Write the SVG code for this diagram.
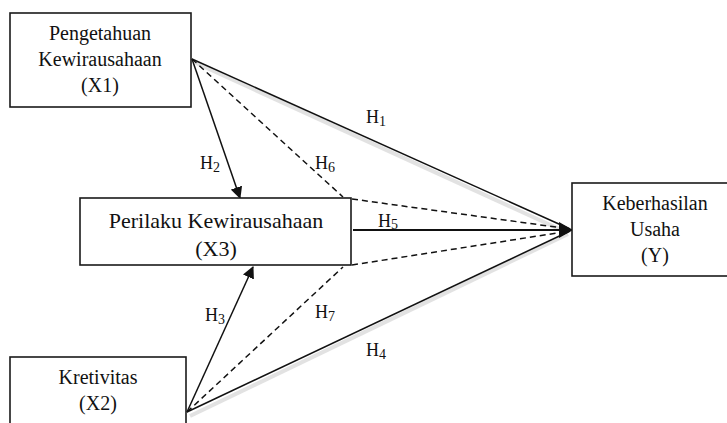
<svg xmlns="http://www.w3.org/2000/svg" width="727" height="423" viewBox="0 0 727 423">
  <defs>
    <style>
      .box { fill: #ffffff; stroke: #1a1a1a; stroke-width: 1.6; }
      .lbl { font-family: "Liberation Serif", "Times New Roman", serif; font-size: 20px; fill: #111; text-anchor: middle; }
      .big { font-size: 22px; }
      .hyp { font-family: "Liberation Serif", "Times New Roman", serif; font-size: 18px; fill: #111; }
      .sub { font-size: 14px; }
      .solid { fill: none; stroke: #111; stroke-width: 1.5; }
      .dash { fill: none; stroke: #111; stroke-width: 1.5; stroke-dasharray: 6 4; }
      .shade { fill: none; stroke: #cfcfcf; stroke-width: 4; opacity: 0.6; }
    </style>
    <marker id="arrow" viewBox="0 0 12 12" refX="11" refY="6" markerWidth="12" markerHeight="12" markerUnits="userSpaceOnUse" orient="auto">
      <path d="M0,0 L12,6 L0,12 Z" fill="#111"/>
    </marker>
    <marker id="arrowBig" viewBox="0 0 14 16" refX="13" refY="8" markerWidth="14" markerHeight="16" markerUnits="userSpaceOnUse" orient="auto">
      <path d="M0,0 L14,8 L0,16 Z" fill="#111"/>
    </marker>
  </defs>

  <rect width="727" height="423" fill="#ffffff"/>

  <!-- connectors -->
  <g id="connectors">
    <!-- soft shading under the long paths -->
    <line class="shade" x1="196" y1="63" x2="568" y2="233"/>
    <line class="shade" x1="190" y1="416" x2="568" y2="234"/>
    <!-- H1: X1 -> Y -->
    <line class="solid" x1="192" y1="59" x2="570" y2="229"/>
    <!-- H2: X1 -> X3 -->
    <line class="solid" x1="192" y1="59" x2="240" y2="198" marker-end="url(#arrow)"/>
    <!-- H6: X1 -> X3 -> Y (mediated) -->
    <line class="dash" x1="192" y1="59" x2="343" y2="197"/>
    <line class="dash" x1="352" y1="199" x2="570" y2="229"/>
    <!-- H5: X3 -> Y -->
    <line x1="353" y1="230" x2="572" y2="230" stroke="#111" stroke-width="2.2" marker-end="url(#arrowBig)"/>
    <!-- H7: X2 -> X3 -> Y (mediated) -->
    <line class="dash" x1="187" y1="412" x2="343" y2="267"/>
    <line class="dash" x1="352" y1="265" x2="570" y2="231"/>
    <!-- H3: X2 -> X3 -->
    <line class="solid" x1="187" y1="412" x2="253" y2="267" marker-end="url(#arrow)"/>
    <!-- H4: X2 -> Y -->
    <line class="solid" x1="187" y1="412" x2="570" y2="231"/>

    <!-- hypothesis labels -->
    <text class="hyp" x="366" y="123">H<tspan class="sub" dy="3">1</tspan></text>
    <text class="hyp" x="200" y="169">H<tspan class="sub" dy="3">2</tspan></text>
    <text class="hyp" x="315" y="169">H<tspan class="sub" dy="3">6</tspan></text>
    <text class="hyp" x="378" y="227">H<tspan class="sub" dy="2">5</tspan></text>
    <text class="hyp" x="205" y="321">H<tspan class="sub" dy="3">3</tspan></text>
    <text class="hyp" x="315" y="318">H<tspan class="sub" dy="3">7</tspan></text>
    <text class="hyp" x="366" y="356">H<tspan class="sub" dy="3">4</tspan></text>
  </g>

  <!-- X1 -->
  <g id="node-x1">
    <rect class="box" x="10" y="13" width="181" height="94"/>
    <text class="lbl" x="100" y="40">Pengetahuan</text>
    <text class="lbl" x="100" y="66">Kewirausahaan</text>
    <text class="lbl" x="100" y="92">(X1)</text>
  </g>

  <!-- X3 -->
  <g id="node-x3">
    <rect class="box" x="80" y="198" width="271" height="67"/>
    <text class="lbl big" x="216" y="228">Perilaku Kewirausahaan</text>
    <text class="lbl big" x="216" y="256">(X3)</text>
  </g>

  <!-- X2 -->
  <g id="node-x2">
    <rect class="box" x="10" y="357" width="176" height="80"/>
    <text class="lbl" x="98" y="384">Kretivitas</text>
    <text class="lbl" x="98" y="410">(X2)</text>
  </g>

  <!-- Y -->
  <g id="node-y">
    <rect class="box" x="572" y="183" width="160" height="93"/>
    <text class="lbl" x="655" y="210">Keberhasilan</text>
    <text class="lbl" x="655" y="236">Usaha</text>
    <text class="lbl" x="655" y="262">(Y)</text>
  </g>
</svg>
